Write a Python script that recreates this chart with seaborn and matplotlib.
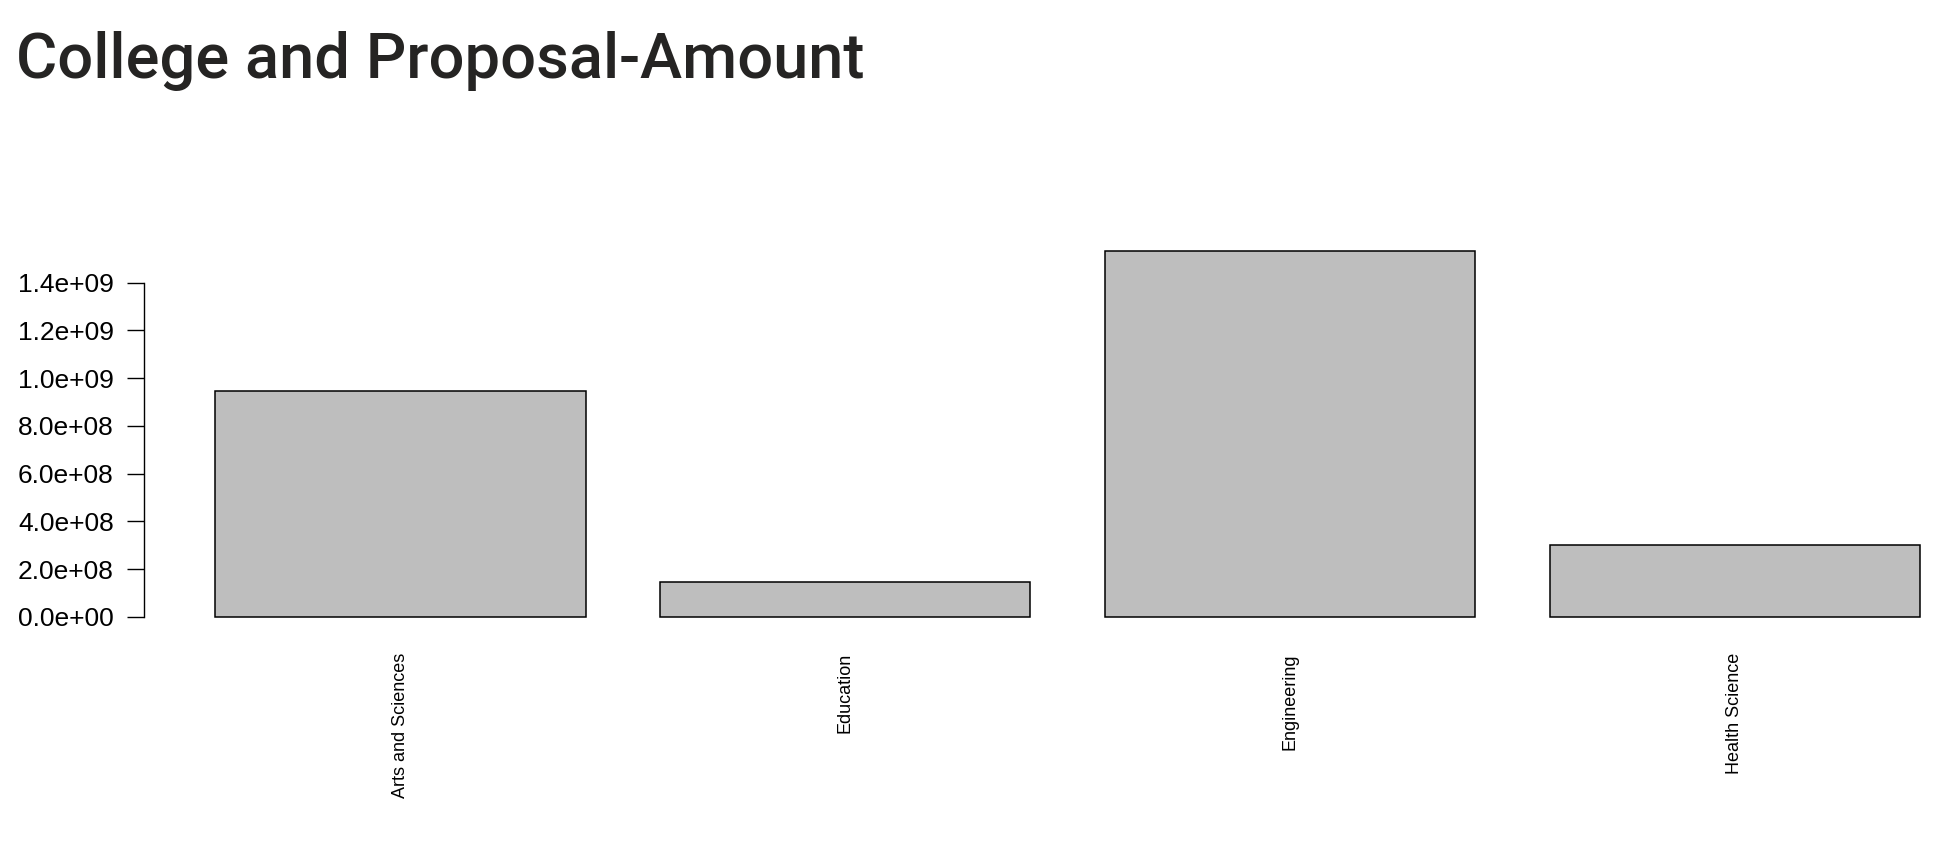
import numpy as np
import pandas as pd
import seaborn as sns
import matplotlib.pyplot as plt
from matplotlib.ticker import FixedLocator

# datos
colleges = ["Arts and Sciences", "Education", "Engineering", "Health Science"]
amounts = [9.48e8, 1.45e8, 1.53e9, 3.0e8]
ytick_vals = [0, 2e8, 4e8, 6e8, 8e8, 1e9, 1.2e9, 1.4e9]
ytick_labels = ["0.0e+00", "2.0e+08", "4.0e+08", "6.0e+08",
                "8.0e+08", "1.0e+09", "1.2e+09", "1.4e+09"]

df = pd.DataFrame({"college": colleges, "amount": amounts})

sns.set_style("white")
plt.rcParams["font.family"] = ["Liberation Sans", "DejaVu Sans"]

fig = plt.figure(figsize=(19.35, 8.64), dpi=100)
ax = fig.add_axes([0.0746, 0.269, 0.9254, 0.4568])

sns.barplot(data=df, x="college", y="amount", color="#bebebe", saturation=1,
            edgecolor="black", linewidth=1.1, width=1 / 1.2, ax=ax)

ax.set_xlim(-0.575, 3.4497)
ax.set_ylim(-0.0612e9, 1.591e9)

for s in ["top", "right", "bottom"]:
    ax.spines[s].set_visible(False)
ax.spines["left"].set_bounds(0, 1.4e9)
ax.spines["left"].set_linewidth(1.0)
ax.spines["left"].set_color("black")

ax.yaxis.set_major_locator(FixedLocator(ytick_vals))
ax.set_yticklabels(ytick_labels, fontsize=19)
ax.tick_params(axis="y", left=True, length=12, width=1.0, pad=10, colors="black")
ax.tick_params(axis="x", bottom=False, pad=12)
ax.set_xticks(range(len(colleges)))
ax.set_xticklabels(colleges, rotation=90, fontsize=13, color="black")
ax.set_xlabel("")
ax.set_ylabel("")

fig.text(0.0085, 0.91, "College and Proposal-Amount", fontsize=45.5,
         family=["Roboto", "DejaVu Sans"], fontweight="medium", color="#252423",
         ha="left", va="baseline")

fig.savefig("out.png", dpi=100)
